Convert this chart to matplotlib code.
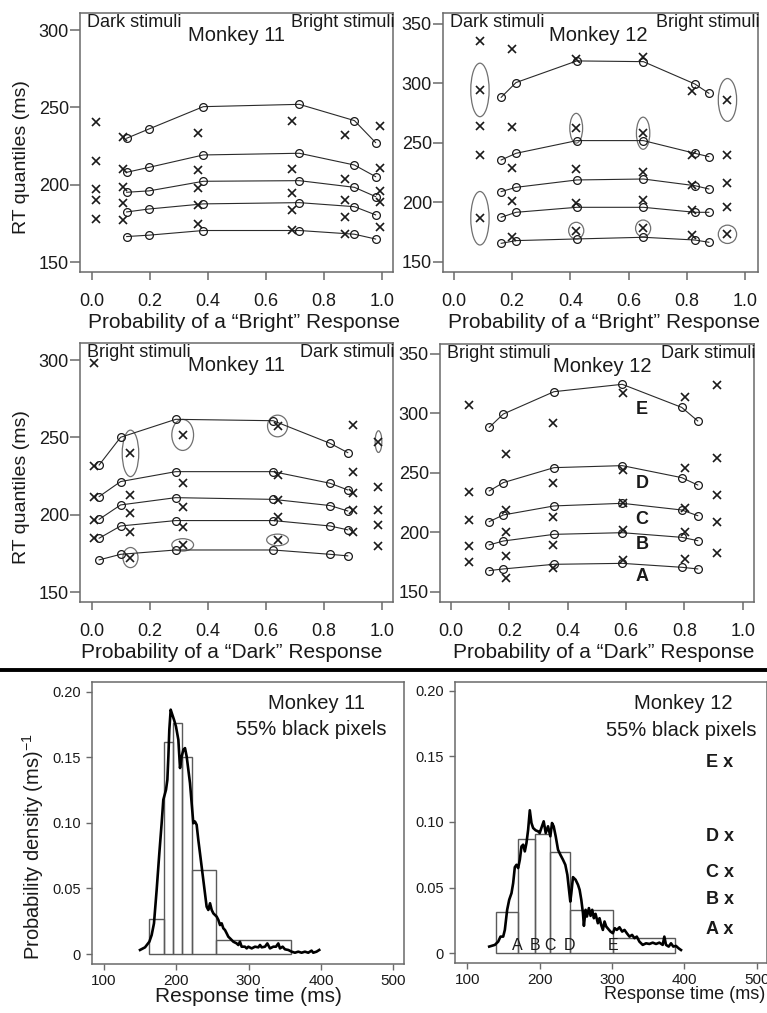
import matplotlib.pyplot as plt
import numpy as np
from matplotlib.patches import Ellipse
from matplotlib.lines import Line2D

plt.rcParams['font.family'] = ['Liberation Sans', 'DejaVu Sans']
plt.rcParams['mathtext.fontset'] = 'custom'
plt.rcParams['mathtext.rm'] = 'Liberation Sans'

# ---------------------------------------------------------------
# RT quantiles (0.9, 0.7, 0.5, 0.3, 0.1) vs. response probability
# correct responses = circles joined by lines, errors = x

# Monkey 11, "bright" responses
m11b_p_corr = [0.121, 0.198, 0.385, 0.716, 0.906, 0.979]
m11b_rt_corr = [[230.1, 236.1, 250.5, 252.0, 241.5, 227.3],
                [208.1, 211.3, 219.3, 220.4, 212.8, 205.3],
                [195.2, 196.1, 202.3, 202.7, 198.4, 192.4],
                [182.5, 184.4, 187.7, 188.5, 185.9, 180.6],
                [166.6, 167.5, 170.5, 170.5, 168.1, 165.0]]
m11b_p_err = [0.015, 0.107, 0.366, 0.691, 0.874, 0.994]
m11b_rt_err = [[240.8, 215.2, 197.4, 190.3, 178.0],
               [231.1, 210.5, 198.9, 188.1, 177.4],
               [233.7, 209.6, 197.8, 187.0, 174.8],
               [241.5, 210.3, 194.6, 183.8, 170.9],
               [232.2, 203.6, 190.3, 179.5, 168.3],
               [238.0, 210.7, 196.3, 189.2, 173.0]]

# Monkey 12, "bright" responses
m12b_p_corr = [0.162, 0.213, 0.422, 0.651, 0.828, 0.876]
m12b_rt_corr = [[288.2, 300.6, 318.8, 318.2, 299.4, 291.6],
                [235.5, 241.1, 251.8, 251.8, 241.1, 238.3],
                [208.9, 212.5, 218.7, 219.5, 213.9, 211.1],
                [187.3, 191.5, 195.7, 195.7, 191.5, 191.5],
                [165.4, 167.7, 169.1, 170.5, 168.2, 166.3]]
m12b_p_err = [0.089, 0.200, 0.420, 0.650, 0.817, 0.940]
m12b_rt_err = [[335.9, 294.4, 264.1, 239.7, 186.5],
               [328.6, 263.0, 228.5, 201.0, 171.0],
               [320.5, 262.2, 227.7, 199.6, 176.1],
               [322.4, 258.0, 225.7, 201.9, 178.0],
               [293.8, 239.7, 214.5, 193.5, 172.4],
               [286.0, 239.7, 216.5, 196.3, 173.0]]

# Monkey 11, "dark" responses
m11d_p_corr = [0.026, 0.100, 0.290, 0.626, 0.822, 0.883]
m11d_rt_corr = [[232.2, 250.1, 261.7, 260.8, 246.2, 240.2],
                [211.8, 221.5, 227.9, 227.9, 220.4, 216.1],
                [197.1, 206.4, 211.1, 210.0, 206.0, 202.5],
                [184.9, 192.8, 196.3, 196.3, 192.8, 190.3],
                [170.9, 174.5, 177.3, 177.3, 174.5, 173.5]]
m11d_p_err = [0.008, 0.134, 0.314, 0.641, 0.900, 0.989]
m11d_rt_err = [[297.8, 231.6, 211.8, 196.7, 184.9],
               [239.7, 212.8, 201.0, 189.2, 172.4],
               [251.6, 220.4, 205.3, 192.4, 180.6],
               [257.4, 225.8, 209.6, 198.4, 183.8],
               [258.0, 227.9, 213.9, 203.2, 189.2],
               [247.3, 217.8, 203.2, 193.5, 179.9]]

# Monkey 12, "dark" responses
m12d_p_corr = [0.131, 0.179, 0.353, 0.587, 0.791, 0.846]
m12d_rt_corr = [[288.2, 299.4, 318.2, 324.4, 305.0, 293.6],
                [234.7, 241.7, 254.3, 256.0, 245.9, 239.7],
                [208.9, 214.5, 222.1, 224.3, 218.7, 213.9],
                [189.3, 192.6, 198.2, 199.6, 195.7, 192.9],
                [167.7, 169.1, 173.0, 173.8, 170.5, 169.1]]
m12d_p_err = [0.063, 0.189, 0.351, 0.591, 0.802, 0.913]
m12d_rt_err = [[307.0, 234.1, 210.3, 188.4, 175.2],
               [265.8, 218.7, 200.5, 180.0, 161.2],
               [292.2, 241.1, 212.5, 189.3, 169.6],
               [316.8, 252.3, 224.3, 201.9, 176.6],
               [314.0, 253.7, 220.7, 200.5, 177.2],
               [323.8, 262.2, 231.3, 208.9, 182.3]]

quantile_names = ['E', 'D', 'C', 'B', 'A']
m12d_letter_rt = [302.8, 241.1, 210.9, 189.3, 162.6]

# ---------------------------------------------------------------
# RT distributions at 55% black pixels
m11_bin_edges = [162.6, 182.9, 195.0, 207.4, 221.2, 254.8, 358.0]
m11_bin_heights = [0.0265, 0.162, 0.176, 0.1506, 0.0641, 0.0107]
m11_t = [149.8, 156.7, 162.7, 165.9, 169.1, 172.8, 176.5, 179.7, 182.0, 185.7,
         187.6, 189.0, 190.3, 192.2, 194.5, 196.8, 199.5, 202.8, 205.1, 207.4,
         209.7, 212.0, 214.3, 216.6, 218.9, 221.2, 223.5, 225.8, 228.1, 230.4,
         232.7, 235.0, 237.3, 239.6, 241.9, 244.2, 246.6, 248.9, 251.2, 255.8,
         258.1, 260.4, 262.7, 265.0, 267.3, 269.6, 271.9, 274.2, 278.8, 283.4,
         285.7, 288.0, 290.3, 294.9, 297.3, 299.6, 304.2, 308.8, 313.4, 315.7,
         318.0, 322.6, 325.8, 329.5, 334.1, 337.8, 341.0, 343.3, 347.0, 350.2,
         354.8, 359.4, 364.0, 368.6, 373.2, 377.8, 382.4, 387.0, 389.3, 393.9,
         397.6]
m11_dens = [0.0031, 0.0051, 0.0094, 0.0145, 0.0234, 0.0489, 0.0769, 0.0997, 0.1176, 0.1252,
            0.1328, 0.1506, 0.1710, 0.1863, 0.1824, 0.1786, 0.1735, 0.1634, 0.1418, 0.1506,
            0.1557, 0.1570, 0.1506, 0.1405, 0.1303, 0.1150, 0.0997, 0.1010, 0.0985, 0.0870,
            0.0769, 0.0667, 0.0565, 0.0463, 0.0361, 0.0336, 0.0387, 0.0336, 0.0310, 0.0285,
            0.0260, 0.0221, 0.0234, 0.0196, 0.0183, 0.0158, 0.0132, 0.0120, 0.0094, 0.0081,
            0.0069, 0.0094, 0.0056, 0.0056, 0.0043, 0.0056, 0.0043, 0.0056, 0.0051, 0.0069,
            0.0051, 0.0056, 0.0081, 0.0043, 0.0056, 0.0056, 0.0081, 0.0043, 0.0056, 0.0036,
            0.0031, 0.0018, 0.0010, 0.0018, 0.0010, 0.0018, 0.0010, 0.0026, 0.0010, 0.0018,
            0.0031]

m12_bin_edges = [139.0, 169.4, 193.2, 214.8, 241.5, 301.2, 387.1]
m12_bin_heights = [0.0318, 0.087, 0.0908, 0.0771, 0.0331, 0.0115]
m12_t = [130.3, 138.1, 142.7, 145.9, 149.6, 151.9, 155.1, 157.9, 161.1, 163.4,
         165.7, 168.0, 170.3, 172.6, 174.9, 177.2, 179.5, 181.8, 184.1, 186.4,
         188.7, 191.0, 194.6, 197.8, 200.1, 202.4, 205.6, 208.4, 211.6, 214.8,
         217.1, 219.4, 222.2, 225.4, 228.6, 232.3, 235.5, 238.3, 240.6, 242.4,
         243.8, 246.1, 249.7, 253.0, 255.3, 257.6, 259.9, 261.2, 263.5, 265.4,
         268.1, 270.4, 272.7, 275.0, 277.3, 280.5, 282.8, 285.1, 287.4, 289.7,
         292.0, 295.2, 298.0, 301.2, 303.9, 306.7, 310.4, 314.1, 317.3, 320.5,
         324.2, 327.8, 331.1, 334.3, 337.9, 342.5, 347.1, 351.7, 356.3, 360.9,
         365.5, 370.1, 372.4, 374.7, 378.4, 381.6, 384.8, 388.5, 392.1, 395.4]
m12_dens = [0.0051, 0.0064, 0.0089, 0.0127, 0.0127, 0.0178, 0.0331, 0.0407, 0.0458, 0.0534,
            0.0656, 0.0674, 0.0649, 0.0712, 0.0814, 0.0827, 0.0776, 0.0840, 0.0941, 0.1089,
            0.0992, 0.0954, 0.0936, 0.0929, 0.0916, 0.0954, 0.1005, 0.0916, 0.0967, 0.0891,
            0.0992, 0.0967, 0.0891, 0.0789, 0.0751, 0.0712, 0.0674, 0.0598, 0.0483, 0.0394,
            0.0458, 0.0580, 0.0560, 0.0522, 0.0483, 0.0407, 0.0305, 0.0209, 0.0331, 0.0280,
            0.0344, 0.0285, 0.0331, 0.0267, 0.0300, 0.0229, 0.0267, 0.0216, 0.0178, 0.0242,
            0.0204, 0.0183, 0.0165, 0.0153, 0.0191, 0.0178, 0.0198, 0.0165, 0.0178, 0.0153,
            0.0127, 0.0140, 0.0115, 0.0127, 0.0089, 0.0064, 0.0076, 0.0071, 0.0081, 0.0071,
            0.0081, 0.0064, 0.0127, 0.0064, 0.0051, 0.0076, 0.0051, 0.0056, 0.0038, 0.0025]
m12_side_rt = [0.1455, 0.0889, 0.0617, 0.0406, 0.0182]

# ellipses drawn round some error points: (stimulus, quantile, width, height)
m12b_rings = [(0, 1, 0.063, 45), (0, 4, 0.063, 45), (5, 0, 0.063, 36),
              (2, 1, 0.044, 25), (3, 1, 0.046, 27),
              (2, 4, 0.052, 14), (3, 4, 0.052, 14), (5, 4, 0.063, 15.4)]
m11d_rings = [(1, 0, 0.057, 30), (2, 0, 0.075, 20), (3, 0, 0.069, 14), (5, 0, 0.023, 14),
              (1, 4, 0.052, 13), (2, 4, 0.075, 8), (3, 4, 0.075, 7.5)]

W, H = 767, 1013
FRAME = '#6a6a6a'
INK = '#1a1a1a'

fig = plt.figure(figsize=(W / 100, H / 100), dpi=100)


def box(l, t, r, b):
    return [l / W, 1 - b / H, (r - l) / W, (b - t) / H]


def style_frame(ax):
    for s in ax.spines.values():
        s.set_color(FRAME)
        s.set_linewidth(1.1)


def quantile_panel(rect, p_corr, rt_corr, p_err, rt_err, xlim, ylim, yticks,
                   left_txt, right_txt, title, title_x, xlabel, xlabel_x,
                   ylabel=False, rings=()):
    ax = fig.add_axes(box(*rect))
    for row in rt_corr:
        ax.plot(p_corr, row, '-', color='#2a2a2a', lw=0.8, marker='o', ms=5.6,
                mfc='none', mec=INK, mew=0.9)
    rt_err = np.array(rt_err)
    for x, col in zip(p_err, rt_err):
        ax.plot([x] * len(col), col, 'x', color=INK, ms=6.0, mew=1.2)
    for i, q, w, h in rings:
        ax.add_patch(Ellipse((p_err[i], rt_err[i][q]), w, h, fill=False,
                             ec='#707070', lw=0.9))
    ax.set_xlim(*xlim)
    ax.set_ylim(*ylim)
    ax.set_xticks([0, 0.2, 0.4, 0.6, 0.8, 1.0])
    ax.set_xticklabels(['0.0', '0.2', '0.4', '0.6', '0.8', '1.0'])
    ax.set_yticks(yticks)
    ax.tick_params(axis='x', direction='out', length=6, pad=9, width=1.1,
                   color=FRAME, labelsize=13, labelcolor=INK)
    ax.tick_params(axis='y', direction='out', length=7, pad=1, width=1.1,
                   color=FRAME, labelsize=13, labelcolor=INK)
    style_frame(ax)
    ax.text(0.022, 0.965, left_txt, transform=ax.transAxes, ha='left',
            va='center', fontsize=13, color=INK)
    ax.text(1.004, 0.965, right_txt, transform=ax.transAxes, ha='right',
            va='center', fontsize=13, color=INK)
    ax.text(title_x, 0.912, title, transform=ax.transAxes, ha='center',
            va='center', fontsize=14.5, color=INK)
    ax.set_xlabel(xlabel, fontsize=15, color=INK)
    ax.xaxis.set_label_coords(xlabel_x, -0.158)
    if ylabel:
        ax.set_ylabel('RT quantiles (ms)', fontsize=14, color=INK)
        ax.yaxis.set_label_coords(-0.16, 0.444)
    return ax


bright_lbl = 'Probability of a \u201cBright\u201d Response'
dark_lbl = 'Probability of a \u201cDark\u201d Response'

quantile_panel((80, 13, 393, 272), m11b_p_corr, m11b_rt_corr, m11b_p_err, m11b_rt_err,
               (-0.040, 1.039), (143.7, 311), [150, 200, 250, 300],
               'Dark stimuli', 'Bright stimuli', 'Monkey 11', 0.50,
               bright_lbl, 0.523, ylabel=True)
quantile_panel((443, 13, 758, 272), m12b_p_corr, m12b_rt_corr, m12b_p_err, m12b_rt_err,
               (-0.038, 1.045), (141.3, 359.1), [150, 200, 250, 300, 350],
               'Dark stimuli', 'Bright stimuli', 'Monkey 12', 0.492,
               bright_lbl, 0.511, rings=m12b_rings)
quantile_panel((80, 343, 393, 602), m11d_p_corr, m11d_rt_corr, m11d_p_err, m11d_rt_err,
               (-0.040, 1.039), (143.7, 311), [150, 200, 250, 300],
               'Bright stimuli', 'Dark stimuli', 'Monkey 11', 0.50,
               dark_lbl, 0.485, ylabel=True, rings=m11d_rings)
ax4 = quantile_panel((440, 344, 754, 602), m12d_p_corr, m12d_rt_corr, m12d_p_err, m12d_rt_err,
                     (-0.038, 1.039), (141.3, 358.3), [150, 200, 250, 300, 350],
                     'Bright stimuli', 'Dark stimuli', 'Monkey 12', 0.517,
                     dark_lbl, 0.522)
for name, rt in zip(quantile_names, m12d_letter_rt):
    ax4.text(0.654, rt, name, ha='center', va='center', fontsize=13,
             fontweight='bold', color=INK)

# thick rule between the two halves
fig.add_artist(Line2D([0, 1], [1 - 670 / H] * 2, transform=fig.transFigure,
                      color='black', lw=2.8))


def histogram_panel(rect, edges, heights, t, dens, xlim, ylim, xlabel_x,
                    xlabel_size=15, ylabel=False):
    ax = fig.add_axes(box(*rect))
    ax.bar(edges[:-1], heights, width=np.diff(edges), align='edge', fill=False,
           edgecolor='#5a5a5a', lw=1.0)
    ax.plot(t, dens, color='black', lw=1.9)
    ax.set_xlim(*xlim)
    ax.set_ylim(*ylim)
    ax.set_xticks([100, 200, 300, 400, 500])
    ax.set_yticks([0, 0.05, 0.10, 0.15, 0.20])
    ax.set_yticklabels(['0', '0.05', '0.10', '0.15', '0.20'])
    ax.tick_params(axis='x', direction='out', length=4, pad=3, width=1.0,
                   color=FRAME, labelsize=11, labelcolor=INK)
    ax.tick_params(axis='y', direction='out', length=4, pad=4, width=1.0,
                   color=FRAME, labelsize=10.5, labelcolor=INK)
    style_frame(ax)
    ax.set_xlabel('Response time (ms)', fontsize=xlabel_size, color=INK)
    ax.xaxis.set_label_coords(xlabel_x, -0.082)
    if ylabel:
        ax.set_ylabel('Probability density (ms)$^{-1}$', fontsize=14.5, color=INK)
        ax.yaxis.set_label_coords(-0.147, 0.418)
    return ax


ax5 = histogram_panel((92, 682, 404, 964), m11_bin_edges, m11_bin_heights, m11_t, m11_dens,
                      (83.4, 514.8), (-0.0076, 0.2074), 0.5, ylabel=True)
ax5.text(0.721, 0.922, 'Monkey 11', transform=ax5.transAxes, ha='center',
         va='center', fontsize=14.5, color=INK)
ax5.text(0.704, 0.83, '55% black pixels', transform=ax5.transAxes, ha='center',
         va='center', fontsize=14.5, color=INK)

ax6 = histogram_panel((455, 682, 767, 963), m12_bin_edges, m12_bin_heights, m12_t, m12_dens,
                      (83, 514.3), (-0.0074, 0.2066), 0.735, xlabel_size=13)
ax6.text(0.732, 0.925, 'Monkey 12', transform=ax6.transAxes, ha='center',
         va='center', fontsize=14.5, color=INK)
ax6.text(0.724, 0.829, '55% black pixels', transform=ax6.transAxes, ha='center',
         va='center', fontsize=14.5, color=INK)
# quantile letters at the bin edges and the side key
for name, edge in zip(quantile_names[::-1], m12_bin_edges[1:]):
    ax6.text(edge, 0.0058, name, ha='center', va='center', fontsize=11.5, color=INK)
for name, y in zip(quantile_names, m12_side_rt):
    ax6.text(449, y, name + ' x', ha='center', va='center', fontsize=13,
             fontweight='bold', color=INK)

fig.savefig('out.png', dpi=100)
